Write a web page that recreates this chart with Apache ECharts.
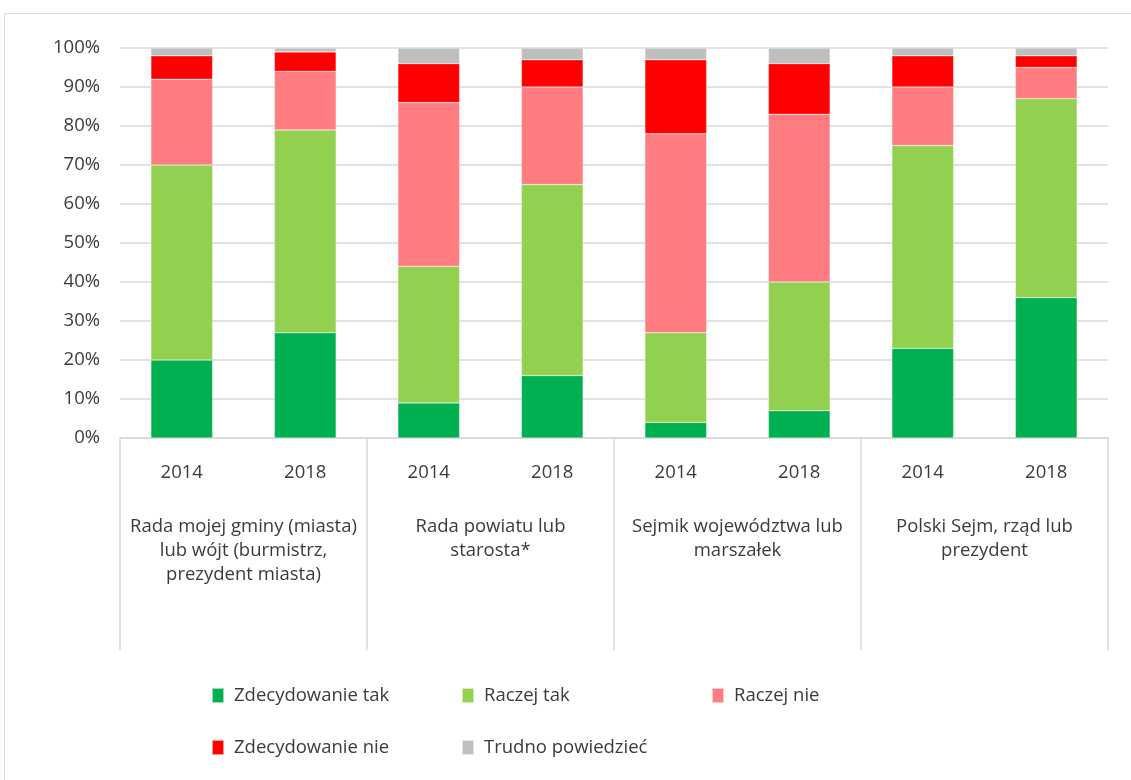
<!DOCTYPE html>
<html>
<head>
<meta charset="utf-8">
<script src="https://cdn.jsdelivr.net/npm/echarts@6/dist/echarts.min.js"></script>
<style>
  html, body { margin: 0; padding: 0; background: #fff; }
  #main { width: 1131px; height: 780px; }
</style>
</head>
<body>
<div id="main"></div>
<script>
// dane (w %)
const groups = [
  'Rada mojej gminy (miasta)\nlub wójt (burmistrz,\nprezydent miasta)',
  'Rada powiatu lub\nstarosta*',
  'Sejmik województwa lub\nmarszałek',
  'Polski Sejm, rząd lub\nprezydent'
];
const years = ['2014', '2018', '2014', '2018', '2014', '2018', '2014', '2018'];
const seriesNames = ['Zdecydowanie tak', 'Raczej tak', 'Raczej nie', 'Zdecydowanie nie', 'Trudno powiedzieć'];
const zdecydowanieTak = [20, 27, 9, 16, 4, 7, 23, 36];
const raczejTak = [50, 52, 35, 49, 23, 33, 52, 51];
const raczejNie = [22, 15, 42, 25, 51, 43, 15, 8];
const zdecydowanieNie = [6, 5, 10, 7, 19, 13, 8, 3];
const trudnoPowiedziec = [2, 1, 4, 3, 3, 4, 2, 2];
const yTicks = [0, 10, 20, 30, 40, 50, 60, 70, 80, 90, 100];

const colors = ['#00B050', '#92D050', '#FF7C80', '#FF0000', '#BFBFBF'];
const values = [zdecydowanieTak, raczejTak, raczejNie, zdecydowanieNie, trudnoPowiedziec];
const font = '"Open Sans", "Noto Sans", sans-serif';
const textColor = '#3b3b3b';
const fs = 18.5;

var chart = echarts.init(document.getElementById('main'));

// każdą pozycję legendy ustawiamy osobno, jak w oryginale
const legendPos = [[211, 686], [461, 686], [711, 686], [211, 738], [461, 738]];
const legends = seriesNames.map((name, i) => ({
  data: [name],
  left: legendPos[i][0],
  top: legendPos[i][1],
  padding: 0,
  icon: 'rect',
  itemWidth: 12,
  itemHeight: 15,
  selectedMode: false,
  textStyle: { fontFamily: font, fontSize: fs, color: textColor, padding: [0, 0, 0, 5] }
}));

var option = {
  animation: false,
  graphic: [{
    type: 'rect',
    silent: true,
    shape: { x: 4.5, y: 13.5, width: 1160, height: 820 },
    style: { fill: 'none', stroke: '#d9d9d9', lineWidth: 1 }
  }],
  legend: legends,
  grid: { left: 120, right: 23, top: 48, bottom: 342, containLabel: false },
  xAxis: [
    {
      type: 'category',
      data: years.map((y, i) => i + '_' + y),
      axisLine: { show: true, lineStyle: { color: '#d9d9d9', width: 1.5 } },
      axisTick: { show: false },
      axisLabel: {
        interval: 0,
        margin: 23,
        lineHeight: 24,
        fontFamily: font,
        fontSize: fs,
        color: textColor,
        formatter: v => v.split('_')[1]
      }
    },
    {
      type: 'category',
      position: 'bottom',
      data: groups,
      axisLine: { show: false },
      axisTick: { show: true, length: 212, lineStyle: { color: '#d9d9d9', width: 1.5 } },
      axisLabel: {
        interval: 0,
        margin: 77,
        lineHeight: 24,
        fontFamily: font,
        fontSize: fs,
        color: textColor,
        align: 'center'
      }
    }
  ],
  yAxis: {
    type: 'value',
    min: yTicks[0],
    max: yTicks[yTicks.length - 1],
    interval: 10,
    axisLine: { show: false },
    axisTick: { show: false },
    splitLine: { lineStyle: { color: '#d9d9d9', width: 1.5 } },
    axisLabel: {
      margin: 20,
      fontFamily: font,
      fontSize: fs,
      color: textColor,
      formatter: '{value}%'
    }
  },
  series: seriesNames.map((name, i) => ({
    name: name,
    type: 'bar',
    stack: 'total',
    barWidth: '50%',
    xAxisIndex: 0,
    itemStyle: { color: colors[i], borderColor: 'rgba(255,255,255,0.6)', borderWidth: 0.5 },
    data: values[i]
  }))
};

chart.setOption(option);
</script>
</body>
</html>
